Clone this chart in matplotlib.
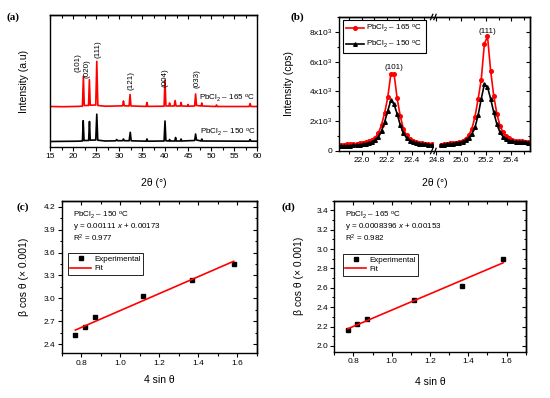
import matplotlib
matplotlib.use('Agg')
import matplotlib.pyplot as plt
from matplotlib.ticker import MultipleLocator, FixedLocator, NullFormatter, FixedFormatter, FormatStrFormatter

plt.rcParams['font.family'] = ['Liberation Sans', 'DejaVu Sans']
plt.rcParams['mathtext.fontset'] = 'custom'
plt.rcParams['mathtext.rm'] = 'Liberation Sans'
plt.rcParams['mathtext.it'] = 'Liberation Sans:italic'
plt.rcParams['axes.linewidth'] = 1.0

# ---------------- data: panel (a) XRD patterns (arbitrary intensity) ----------------
a_red_x = [15.0, 18.0, 21.0, 22.05, 22.26, 22.45, 23.38, 23.56, 23.75, 24.95, 25.17, 25.4,
           27.0, 29.5, 30.8, 30.97, 31.15, 32.2, 32.4, 32.6, 35.9, 36.07, 36.25, 39.8, 40.0,
           40.2, 40.85, 41.0, 41.15, 42.0, 42.2, 42.4, 43.35, 43.5, 43.65, 44.85, 45.0, 45.15,
           46.45, 46.65, 46.85, 47.85, 48.0, 48.15, 51.05, 51.2, 51.35, 58.3, 58.5, 58.7, 60.0]
a_red_y = [40.5, 40.3, 40.6, 40.8, 70.7, 41.5, 41.5, 67.4, 41.8, 42.0, 85.7, 41.5,
           40.8, 41.0, 41.2, 46.0, 41.2, 41.0, 52.5, 41.0, 40.6, 44.5, 40.6, 40.8, 67.0,
           41.0, 41.0, 44.0, 41.0, 41.0, 46.5, 41.0, 41.0, 44.5, 41.0, 40.8, 42.5, 40.8,
           41.0, 53.0, 41.5, 41.0, 44.0, 41.0, 40.5, 42.0, 40.5, 40.5, 43.5, 40.5, 40.5]
a_blk_x = [15.0, 21.0, 22.05, 22.22, 22.4, 23.4, 23.58, 23.75, 24.95, 25.17, 25.38, 27.0,
           29.3, 29.5, 29.7, 30.8, 30.97, 31.15, 32.2, 32.45, 32.65, 35.9, 36.07, 36.25,
           39.8, 40.0, 40.2, 40.85, 41.0, 41.15, 42.15, 42.3, 42.45, 43.35, 43.5, 43.65,
           46.45, 46.65, 46.85, 47.85, 48.0, 48.15, 58.3, 58.5, 58.7, 60.0]
a_blk_y = [5.5, 5.8, 6.0, 26.3, 6.5, 6.5, 25.5, 6.8, 7.0, 32.8, 6.8, 6.0,
           6.2, 7.5, 6.3, 6.3, 8.0, 6.3, 6.2, 14.7, 6.2, 5.8, 8.0, 5.8,
           6.0, 26.0, 6.2, 6.0, 7.5, 6.0, 6.0, 9.5, 6.0, 6.0, 8.0, 6.0,
           6.5, 13.0, 7.0, 6.0, 8.0, 6.0, 5.8, 7.5, 5.8, 5.8]
a_hkl = ['(101)', '(020)', '(111)', '(121)', '(004)', '(033)']
a_hkl_x = [21.1, 23.1, 25.4, 32.6, 39.9, 46.9]
a_hkl_y = [84, 78, 98, 67, 69, 68]

# ---------------- data: panel (b) zoomed peaks ----------------
b_left_x = [21.835, 21.86, 21.885, 21.91, 21.935, 21.96, 21.985, 22.01, 22.035, 22.06,
            22.085, 22.11, 22.135, 22.16, 22.185, 22.21, 22.235, 22.26, 22.285, 22.31,
            22.335, 22.36, 22.385, 22.41, 22.435, 22.46, 22.485, 22.51, 22.535, 22.56]
b_left_165 = [420, 430, 440, 450, 470, 490, 520, 560, 600, 660,
              760, 900, 1200, 1750, 2550, 3600, 5200, 5200, 3550, 2350,
              1500, 1050, 800, 680, 600, 560, 520, 500, 470, 450]
b_left_150 = [330, 340, 345, 355, 370, 390, 410, 440, 480, 530,
              600, 720, 950, 1350, 1950, 2700, 3400, 3150, 2500, 1750,
              1200, 880, 700, 600, 540, 500, 470, 450, 430, 400]
b_right_x = [24.835, 24.86, 24.885, 24.91, 24.935, 24.96, 24.985, 25.01, 25.035, 25.06,
             25.085, 25.11, 25.135, 25.16, 25.185, 25.21, 25.235, 25.26, 25.285, 25.31,
             25.335, 25.36, 25.385, 25.41, 25.435, 25.46, 25.485, 25.51, 25.535]
b_right_165 = [430, 470, 500, 520, 540, 570, 620, 700, 820, 1050,
               1500, 2300, 3500, 4800, 7200, 7700, 5400, 3700, 2500, 1700,
               1250, 1000, 850, 750, 700, 670, 640, 620, 600]
b_right_150 = [400, 430, 450, 470, 490, 520, 560, 620, 720, 880,
               1150, 1600, 2400, 3500, 4500, 4300, 3500, 2600, 1800, 1250,
               950, 800, 700, 650, 620, 600, 590, 580, 570]
b_left_ticks = [22.0, 22.2, 22.4]
b_right_ticks = [24.8, 25.0, 25.2, 25.4]
b_yticks = [0, 2000, 4000, 6000, 8000]
b_yticklabels = ['0', r'2x10$^3$', r'4x10$^3$', r'6x10$^3$', r'8x10$^3$']

# ---------------- data: panels (c), (d) Williamson-Hall ----------------
wh_x = [0.77, 0.818, 0.873, 1.116, 1.368, 1.582]
c_y = [2.52, 2.62, 2.75, 3.03, 3.24, 3.45]
c_slope, c_icpt = 1.11, 1.73
d_y = [2.16, 2.23, 2.28, 2.47, 2.62, 2.90]
d_slope, d_icpt = 0.8396, 1.53

W, H = 550, 398
fig = plt.figure(figsize=(W / 100, H / 100), dpi=100)

def rect(x0, y0, x1, y1):
    return [x0 / W, 1 - y1 / H, (x1 - x0) / W, (y1 - y0) / H]

TS = 6.0   # tick font
LS = 7.5   # label font
AS = 5.8   # annotation font

def mirror(ax, top=True, right=True, xmaj=None, xmin=None, ymaj=None, ymin=None):
    if top:
        s = ax.secondary_xaxis('top')
        if xmaj is not None:
            s.xaxis.set_major_locator(xmaj)
        if xmin is not None:
            s.xaxis.set_minor_locator(xmin)
        s.xaxis.set_major_formatter(NullFormatter())
        s.tick_params(axis='x', which='major', direction='in', length=3, width=0.8)
        s.tick_params(axis='x', which='minor', direction='in', length=1.8, width=0.8)
    if right:
        s = ax.secondary_yaxis('right')
        if ymaj is not None:
            s.yaxis.set_major_locator(ymaj)
        if ymin is not None:
            s.yaxis.set_minor_locator(ymin)
        s.yaxis.set_major_formatter(NullFormatter())
        s.tick_params(axis='y', which='major', direction='in', length=3, width=0.8)
        s.tick_params(axis='y', which='minor', direction='in', length=1.8, width=0.8)

def base_ticks(ax):
    ax.tick_params(which='major', direction='out', length=3, width=0.8, labelsize=TS, pad=1.5)
    ax.tick_params(which='minor', direction='out', length=1.8, width=0.8)

# ---------------- panel (a) ----------------
axa = fig.add_axes(rect(50, 15, 257, 147))
axa.plot(a_red_x, a_red_y, color='red', lw=1.2)
axa.plot(a_blk_x, a_blk_y, color='black', lw=1.2)
axa.set_xlim(15, 60)
axa.set_ylim(0, 132)
axa.xaxis.set_major_locator(MultipleLocator(5))
axa.xaxis.set_minor_locator(MultipleLocator(2.5))
base_ticks(axa)
axa.tick_params(axis='y', left=False, labelleft=False, which='both')
mirror(axa, top=True, right=False, xmaj=MultipleLocator(5), xmin=MultipleLocator(2.5))
for lab, x, y in zip(a_hkl, a_hkl_x, a_hkl_y):
    axa.text(x, y, lab, rotation=90, ha='center', va='center', fontsize=AS)
axa.text(47.4, 49, r'PbCl$_2$ – 165 $^{\rm o}$C', fontsize=AS, va='center')
axa.text(47.6, 14.5, r'PbCl$_2$ – 150 $^{\rm o}$C', fontsize=AS, va='center')
axa.set_ylabel('Intensity (a.u)', fontsize=LS)
axa.set_xlabel('2θ (°)', fontsize=LS)
axa.yaxis.set_label_coords(-0.10, 0.5)
axa.xaxis.set_label_coords(0.5, -0.235)

# ---------------- panel (b) ----------------
axb1 = fig.add_axes(rect(339, 17, 433, 151))
axb2 = fig.add_axes(rect(435, 17, 530, 151))
for ax, xs, r, k in ((axb1, b_left_x, b_left_165, b_left_150),
                     (axb2, b_right_x, b_right_165, b_right_150)):
    ax.plot(xs, r, color='red', lw=1.2, marker='o', ms=2.6, label=r'PbCl$_2$ – 165 $^{\rm o}$C')
    ax.plot(xs, k, color='black', lw=1.2, marker='^', ms=2.6, label=r'PbCl$_2$ – 150 $^{\rm o}$C')
    ax.set_ylim(0, 9000)
    base_ticks(ax)
    ax.xaxis.set_minor_locator(MultipleLocator(0.1))
    ax.xaxis.set_major_formatter(FormatStrFormatter('%.1f'))
axb1.set_xlim(21.82, 22.572)
axb2.set_xlim(24.79, 25.55)
axb1.spines['right'].set_visible(False)
axb2.spines['left'].set_visible(False)
axb1.xaxis.set_major_locator(FixedLocator(b_left_ticks))
axb2.xaxis.set_major_locator(FixedLocator(b_right_ticks))
axb1.yaxis.set_major_locator(FixedLocator(b_yticks))
axb1.yaxis.set_major_formatter(FixedFormatter(b_yticklabels))
axb1.yaxis.set_minor_locator(MultipleLocator(1000))
axb2.tick_params(axis='y', which='both', left=False, labelleft=False)
mirror(axb1, top=True, right=False, xmaj=FixedLocator(b_left_ticks), xmin=MultipleLocator(0.1))
mirror(axb2, top=True, right=True, xmaj=FixedLocator(b_right_ticks), xmin=MultipleLocator(0.1),
       ymaj=FixedLocator(b_yticks), ymin=MultipleLocator(1000))
# break marks
for yy in (0, 1):
    for dx in (-0.035, 0.0):
        axb2.plot([dx - 0.012, dx + 0.012], [yy - 0.02, yy + 0.02], transform=axb2.transAxes,
                  color='black', lw=0.9, clip_on=False)
axb1.text(22.26, 5630, '(101)', fontsize=AS, ha='center', va='center')
axb2.text(25.21, 8030, '(111)', fontsize=AS, ha='center', va='center')
h, l = axb1.get_legend_handles_labels()
lgb = axb1.legend(h, l, loc='upper left', bbox_to_anchor=(0.043, 0.978), borderaxespad=0,
                  fontsize=AS, frameon=True, fancybox=False, edgecolor='black', framealpha=1,
                  handlelength=2.2, handletextpad=0.3, borderpad=0.4, labelspacing=0.55)
lgb.get_frame().set_linewidth(0.8)
axb1.set_ylabel('Intensity (cps)', fontsize=LS)
axb1.yaxis.set_label_coords(-0.48, 0.5)
fig.text(435 / W, 1 - 183 / H, '2θ (°)', fontsize=LS, ha='center', va='center')

# ---------------- panels (c), (d) ----------------
def wh_panel(r, ys, slope, icpt, ylim, ymaj, ymin, temp, eq, r2, leg_anchor, txt_x, txt_ys,
             ylab_x, xlab_y):
    ax = fig.add_axes(r)
    fit_x = [wh_x[0], wh_x[-1]]
    fit_y = [slope * v + icpt for v in fit_x]
    ax.plot(wh_x, ys, ls='none', marker='s', ms=3.2, color='black', label='Experimental')
    ax.plot(fit_x, fit_y, color='red', lw=1.2, label='Fit')
    ax.set_xlim(0.7, 1.7)
    ax.set_ylim(*ylim)
    ax.xaxis.set_major_locator(MultipleLocator(0.2))
    ax.xaxis.set_minor_locator(MultipleLocator(0.1))
    ax.yaxis.set_major_locator(MultipleLocator(ymaj))
    ax.yaxis.set_minor_locator(MultipleLocator(ymin))
    ax.xaxis.set_major_formatter(FormatStrFormatter('%.1f'))
    ax.yaxis.set_major_formatter(FormatStrFormatter('%.1f'))
    base_ticks(ax)
    mirror(ax, xmaj=MultipleLocator(0.2), xmin=MultipleLocator(0.1),
           ymaj=MultipleLocator(ymaj), ymin=MultipleLocator(ymin))
    lg = ax.legend(loc='upper left', bbox_to_anchor=leg_anchor, borderaxespad=0, fontsize=AS,
                   frameon=True, fancybox=False, edgecolor='black', framealpha=1,
                   handlelength=2.6, handletextpad=0.4, borderpad=0.3, labelspacing=0.2)
    lg.get_frame().set_linewidth(0.6)
    for s, yy in zip([temp, eq, r2], txt_ys):
        ax.text(txt_x, yy, s, transform=ax.transAxes, fontsize=AS, va='center')
    ax.set_ylabel('β cos θ (× 0.001)', fontsize=LS)
    ax.set_xlabel('4 sin θ', fontsize=LS)
    ax.yaxis.set_label_coords(ylab_x, 0.5)
    ax.xaxis.set_label_coords(0.5, xlab_y)
    return ax

wh_panel(rect(61.7, 200.7, 256.7, 353.3), c_y, c_slope, c_icpt, (2.28, 4.28), 0.3, 0.15,
         r'PbCl$_2$ – 150 $^{\rm o}$C', r'y = 0.00111 $x$ + 0.00173', r'R$^2$ = 0.977',
         (0.032, 0.657), 0.06, [0.906, 0.829, 0.753], -0.168, -0.145)
wh_panel(rect(334.3, 200.7, 525.7, 351.7), d_y, d_slope, d_icpt, (1.94, 3.5), 0.2, 0.1,
         r'PbCl$_2$ – 165 $^{\rm o}$C', r'y = 0.0008396 $x$ + 0.00153', r'R$^2$ = 0.982',
         (0.045, 0.647), 0.056, [0.905, 0.828, 0.751], -0.158, -0.168)

# panel letters
for lab, x, y in (('(a)', 13, 17), ('(b)', 297, 17), ('(c)', 23, 207), ('(d)', 288, 207)):
    fig.text(x / W, 1 - y / H, lab, fontsize=8, fontweight='bold', family='Liberation Serif',
             ha='center', va='center')

fig.savefig('out.png', dpi=100)
